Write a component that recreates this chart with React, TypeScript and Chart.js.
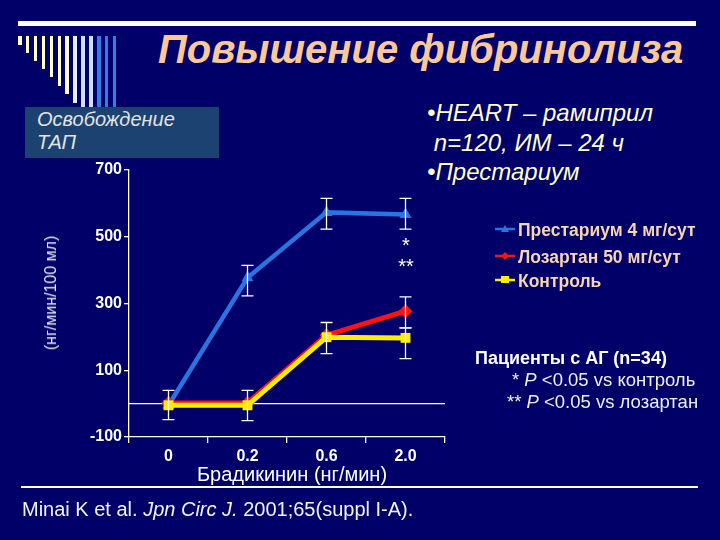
import { useEffect, useRef } from "react";
import { Chart, registerables } from "chart.js";

Chart.register(...registerables);

// bradykinin doses (ng/min)
const doses = ["0", "0.2", "0.6", "2.0"];

// TAP release, ng/min/100 ml
const prestarium = [-5, 377, 573, 567];
const prestariumLow = [-48, 323, 523, 523];
const prestariumHigh = [40, 414, 615, 615];

const losartan = [2, 2, 205, 277];
const losartanLow = [null, null, null, 227];
const losartanHigh = [null, null, null, 320];

const control = [-5, -5, 199, 197];
const controlLow = [null, -51, 150, 135];
const controlHigh = [null, 40, 243, 227];

const yMin = -100;
const yMax = 700;
const yStep = 200;

const seriesNames = ["Престариум 4 мг/сут", "Лозартан 50 мг/сут", "Контроль"];

const BG = "#000068";
const BLUE = "#2a74e2";
const RED = "#ff1212";
const YELLOW = "#ffee00";
const FONT = "'Liberation Sans', Arial, sans-serif";

// zero line under the lines, error bars over them
const extrasPlugin = {
  id: "extras",
  beforeDatasetsDraw(chart: any) {
    const { ctx, chartArea, scales } = chart;
    const y0 = scales.y.getPixelForValue(0);
    ctx.save();
    ctx.strokeStyle = "#ffffff";
    ctx.lineWidth = 1.2;
    ctx.beginPath();
    ctx.moveTo(chartArea.left, y0);
    ctx.lineTo(chartArea.right, y0);
    ctx.stroke();
    ctx.restore();
  },
  afterDatasetsDraw(chart: any) {
    const { ctx, scales } = chart;
    ctx.save();
    ctx.strokeStyle = "#ffffff";
    ctx.lineWidth = 1.3;
    chart.data.datasets.forEach((ds: any) => {
      ds.data.forEach((_v: number, i: number) => {
        const lo = ds.errLow[i];
        const hi = ds.errHigh[i];
        if (lo == null || hi == null) return;
        const x = scales.x.getPixelForValue(i);
        const yl = scales.y.getPixelForValue(lo);
        const yh = scales.y.getPixelForValue(hi);
        ctx.beginPath();
        ctx.moveTo(x, yl);
        ctx.lineTo(x, yh);
        ctx.moveTo(x - 6, yl);
        ctx.lineTo(x + 6, yl);
        ctx.moveTo(x - 6, yh);
        ctx.lineTo(x + 6, yh);
        ctx.stroke();
      });
    });
    ctx.restore();
  },
};

function LegendMark({ color, shape }: { color: string; shape: string }) {
  let mark;
  if (shape === "triangle") mark = <polygon points="10,1 14,8 6,8" fill={color} />;
  else if (shape === "diamond") mark = <polygon points="10,1 14,5 10,9 6,5" fill={color} />;
  else mark = <rect x="6" y="1" width="8" height="7" fill={color} />;
  return (
    <svg width="20" height="10" style={{ position: "absolute", left: 0, top: 4 }}>
      <line x1="0" y1="5" x2="20" y2="5" stroke={color} strokeWidth="2.5" />
      {mark}
    </svg>
  );
}

export default function App() {
  const chartRef = useRef<HTMLCanvasElement>(null);
  const chartInstance = useRef<Chart | null>(null);

  useEffect(() => {
    if (!chartRef.current) return;
    const ctx = chartRef.current.getContext("2d");
    if (!ctx) return;

    if (chartInstance.current) chartInstance.current.destroy();

    chartInstance.current = new Chart(ctx, {
      type: "line",
      data: {
        labels: doses,
        datasets: [
          {
            label: seriesNames[0],
            data: prestarium,
            errLow: prestariumLow,
            errHigh: prestariumHigh,
            borderColor: BLUE,
            backgroundColor: BLUE,
            borderWidth: 4.5,
            tension: 0,
            pointStyle: "triangle",
            pointRadius: 7,
            pointBorderWidth: 0,
            order: 2,
          } as any,
          {
            label: seriesNames[1],
            data: losartan,
            errLow: losartanLow,
            errHigh: losartanHigh,
            borderColor: RED,
            backgroundColor: RED,
            borderWidth: 5,
            tension: 0,
            pointStyle: "rectRot",
            pointRadius: 7,
            pointBorderWidth: 0,
            order: 1,
          } as any,
          {
            label: seriesNames[2],
            data: control,
            errLow: controlLow,
            errHigh: controlHigh,
            borderColor: YELLOW,
            backgroundColor: YELLOW,
            borderWidth: 5,
            tension: 0,
            pointStyle: "rect",
            pointRadius: 7,
            pointBorderWidth: 0,
            order: 0,
          } as any,
        ],
      },
      options: {
        responsive: true,
        maintainAspectRatio: false,
        animation: false,
        layout: { padding: { left: 0, top: 170, right: 275, bottom: 0 } },
        plugins: {
          legend: { display: false },
          tooltip: { enabled: false },
        },
        scales: {
          x: {
            type: "category",
            offset: true,
            afterFit: (s: any) => {
              s.height = 103;
            },
            border: { display: true, color: "#ffffff", width: 1.3 },
            grid: {
              offset: true,
              drawOnChartArea: false,
              drawTicks: true,
              tickLength: 6,
              color: "#ffffff",
              lineWidth: 1.3,
            },
            ticks: {
              color: "#ffffff",
              padding: 4,
              font: { family: FONT, size: 16, weight: "bold" },
            },
          },
          y: {
            min: yMin,
            max: yMax,
            afterFit: (s: any) => {
              s.width = 129;
            },
            border: { display: true, color: "#ffffff", width: 1.3 },
            grid: {
              drawOnChartArea: false,
              drawTicks: true,
              tickLength: 5,
              color: "#ffffff",
              lineWidth: 1.3,
            },
            ticks: {
              stepSize: yStep,
              color: "#ffffff",
              padding: 2,
              font: { family: FONT, size: 16, weight: "bold" },
            },
          },
        },
      },
      plugins: [extrasPlugin],
    });

    return () => {
      if (chartInstance.current) {
        chartInstance.current.destroy();
        chartInstance.current = null;
      }
    };
  }, []);

  // slide template stripes at the top left
  const stripeEnds = [45, 53, 61, 69, 77, 86, 94, 103, 107, 107, 107, 107, 107];
  const stripeColors = [
    "#ffffcc", "#ffffcc", "#ffffcc", "#ffffcc", "#ffffcc", "#ffffcc", "#ffffcc",
    "#e6efff", "#cfe0ff", "#cfe0ff", "#2f7fe6", "#2f7fe6", "#2f7fe6",
  ];

  const abs = (style: any) => ({ position: "absolute" as const, whiteSpace: "nowrap" as const, ...style });

  return (
    <div
      style={{
        position: "fixed",
        left: 0,
        top: 0,
        width: 720,
        height: 540,
        background: BG,
        overflow: "hidden",
        fontFamily: FONT,
      }}
    >
      <div style={abs({ left: 18, top: 21, width: 678, height: 5, background: "#ffffff" })} />
      {stripeEnds.map((end, i) => (
        <div
          key={i}
          style={abs({ left: 18 + i * 7.9, top: 36, width: 3.5, height: end - 36, background: stripeColors[i] })}
        />
      ))}

      <div
        style={abs({
          left: 158,
          top: 29,
          fontSize: 40,
          lineHeight: "40px",
          fontWeight: "bold",
          fontStyle: "italic",
          color: "#f9c99b",
        })}
      >
        Повышение фибринолиза
      </div>

      <div style={abs({ left: 25, top: 107, width: 194, height: 51, background: "#1b4271" })} />
      <div style={abs({ left: 37, top: 108, fontSize: 20, lineHeight: "23px", fontStyle: "italic", color: "#e4e4e4" })}>
        Освобождение
        <br />
        ТАП
      </div>

      <div style={abs({ left: 427, top: 98, fontSize: 24, lineHeight: "29.5px", fontStyle: "italic", color: "#ffffcc" })}>
        •HEART – рамиприл
        <br />
        &nbsp;n=120, ИМ – 24 ч
        <br />
        •Престариум
      </div>

      <div style={{ position: "absolute", left: 0, top: 0, width: 720, height: 540 }}>
        <canvas ref={chartRef}></canvas>
      </div>

      <div
        style={abs({
          left: 51,
          top: 293,
          transform: "translate(-50%, -50%) rotate(-90deg)",
          fontSize: 16,
          color: "#e8e8f0",
        })}
      >
        (нг/мин/100 мл)
      </div>
      <div style={abs({ left: 292, top: 474, transform: "translate(-50%, -50%)", fontSize: 20, color: "#ffffff" })}>
        Брадикинин (нг/мин)
      </div>

      <div style={abs({ left: 406, top: 245, transform: "translate(-50%, -50%)", fontSize: 20, color: "#ffffff" })}>*</div>
      <div style={abs({ left: 406, top: 266, transform: "translate(-50%, -50%)", fontSize: 20, color: "#ffffff" })}>**</div>

      {[
        { name: seriesNames[0], color: BLUE, shape: "triangle", y: 230 },
        { name: seriesNames[1], color: RED, shape: "diamond", y: 257 },
        { name: seriesNames[2], color: YELLOW, shape: "square", y: 281 },
      ].map((s) => (
        <div key={s.name} style={abs({ left: 495, top: s.y - 10, height: 20 })}>
          <LegendMark color={s.color} shape={s.shape} />
          <span
            style={{
              position: "absolute",
              left: 23,
              top: 0,
              fontSize: 17.5,
              lineHeight: "20px",
              fontWeight: "bold",
              color: "#f7d4b2",
            }}
          >
            {s.name}
          </span>
        </div>
      ))}

      <div style={abs({ left: 475, top: 347, fontSize: 18, lineHeight: "22px", fontWeight: "bold", color: "#ffffff" })}>
        Пациенты с АГ (n=34)
      </div>
      <div style={abs({ left: 512, top: 369, fontSize: 18.5, lineHeight: "22px", color: "#eeeeee" })}>
        * <i>P</i> &lt;0.05 vs контроль
      </div>
      <div style={abs({ left: 507, top: 391, fontSize: 18.5, lineHeight: "22px", color: "#eeeeee" })}>
        ** <i>P</i> &lt;0.05 vs лозартан
      </div>

      <div style={abs({ left: 21, top: 486, width: 677, height: 2, background: "#ffffff" })} />
      <div style={abs({ left: 22, top: 497, fontSize: 20, lineHeight: "24px", color: "#f2f2f2" })}>
        Minai K et al. <i>Jpn Circ J.</i> 2001;65(suppl I-A).
      </div>
    </div>
  );
}
